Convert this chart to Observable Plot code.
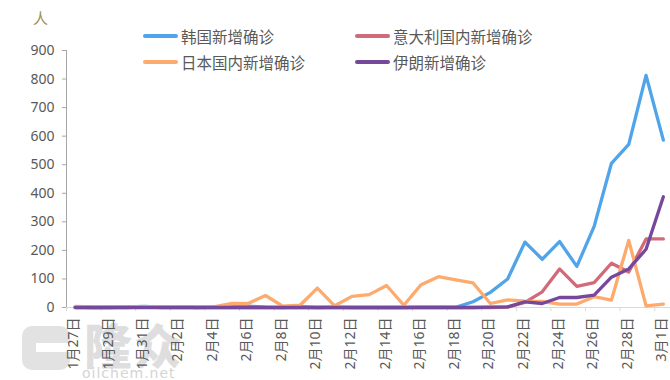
<!DOCTYPE html>
<html>
<head>
<meta charset="utf-8">
<script src="https://cdn.jsdelivr.net/npm/d3@7"></script>
<script src="https://cdn.jsdelivr.net/npm/@observablehq/plot@0.6"></script>
<style>
  html, body { margin: 0; padding: 0; background: #ffffff; }
  #wrap { position: relative; width: 670px; height: 380px; overflow: hidden; background: #ffffff; }
  #chart { position: absolute; left: 0; top: 0; z-index: 1; }
  #chart svg { background: transparent; }
  #wm { position: absolute; left: 0; top: 0; width: 670px; height: 380px; z-index: 0; }
  .wm-logo { position: absolute; left: 22px; top: 326px; width: 48px; height: 44px; background: #e2e2e2; border-radius: 10px; }
  .wm-bar { position: absolute; left: 14px; top: 17px; width: 34px; height: 9px; background: #ffffff; }
  .wm-text { position: absolute; left: 84px; top: 319px; line-height: 1; font-family: 'Noto Sans CJK SC', sans-serif; font-weight: 900; font-size: 48px; color: #dedede; letter-spacing: 2px; }
  .wm-sub { position: absolute; left: 82px; top: 366px; line-height: 1; font-family: 'DejaVu Sans', sans-serif; font-size: 14px; color: #d4d4d4; letter-spacing: 1px; }
  #unit { position: absolute; left: 33px; top: 7px; z-index: 2; font-family: 'Noto Sans CJK SC', sans-serif; font-size: 15px; color: #a0905a; }
  .leg { position: absolute; z-index: 2; display: flex; align-items: center; height: 20px; font-family: 'Noto Sans CJK SC', sans-serif; font-size: 15.5px; color: #595959; white-space: nowrap; }
  .sw { width: 35px; height: 3.5px; border-radius: 2px; margin-right: 3px; }
</style>
</head>
<body>
<div id="wrap">
  <div id="wm">
    <div class="wm-logo"><div class="wm-bar"></div></div>
    <div class="wm-text">隆众</div>
    <div class="wm-sub">oilchem.net</div>
  </div>
  <div id="chart"></div>
  <div id="unit">人</div>
</div>
<script>
// Categories: one per day, 2020-01-27 .. 2020-03-01
const dateLabels = [
  "1月27日","1月28日","1月29日","1月30日","1月31日",
  "2月1日","2月2日","2月3日","2月4日","2月5日","2月6日","2月7日","2月8日","2月9日","2月10日",
  "2月11日","2月12日","2月13日","2月14日","2月15日","2月16日","2月17日","2月18日","2月19日","2月20日",
  "2月21日","2月22日","2月23日","2月24日","2月25日","2月26日","2月27日","2月28日","2月29日","3月1日"
];

// Series values (new confirmed cases per day)
const korea = [1,0,0,2,4, 1,3,0,1,2, 5,1,0,3,0, 1,0,0,0,0, 1,1,1,20,53, 100,229,169,231,144, 284,505,571,813,586];
const italy = [0,0,0,0,2, 0,0,0,0,0, 0,0,0,0,0, 0,0,0,0,0, 0,0,0,0,0, 1,18,55,135,74, 87,155,124,240,240];
const japan = [4,2,2,3,3, 3,3,1,2,14, 14,42,5,8,68, 6,39,45,77,8, 80,108,97,86,14, 27,22,21,12,12, 38,26,235,6,12];
const iran  = [0,0,0,0,0, 0,0,0,0,0, 0,0,0,0,0, 0,0,0,0,0, 0,0,0,0,1, 2,20,14,35,35, 43,106,135,204,388];

const seriesNames  = ["韩国新增确诊", "意大利国内新增确诊", "日本国内新增确诊", "伊朗新增确诊"];
const seriesValues = [korea, italy, japan, iran];
const seriesColors = ["#4fa4ea", "#d06b79", "#fdaa6f", "#76489c"];

const yTicks = [0, 100, 200, 300, 400, 500, 600, 700, 800, 900];

// Build tidy table
const rows = [];
seriesNames.forEach((name, s) => {
  seriesValues[s].forEach((v, i) => rows.push({series: name, i, value: v}));
});

const n = dateLabels.length;
const labelIdx = d3.range(0, n, 2);              // labelled categories
const tickBounds = labelIdx.map(i => i - 0.5);   // tick marks sit between categories

const chart = Plot.plot({
  width: 670,
  height: 380,
  marginLeft: 66,
  marginRight: 0,
  marginTop: 50,
  marginBottom: 73,
  style: {background: "transparent", fontFamily: "'Noto Sans', 'Noto Sans CJK SC', sans-serif", color: "#595959", overflow: "visible"},
  x: {type: "linear", domain: [-0.5, n - 0.5], range: [66, 671.5]},
  y: {domain: [0, 900]},
  color: {domain: seriesNames, range: seriesColors},
  marks: [
    Plot.ruleY([0], {stroke: "#d9d9d9", strokeWidth: 1}),
    Plot.ruleX([-0.5], {y1: 0, y2: 900, stroke: "#a6a6a6", strokeWidth: 1}),
    Plot.axisY({ticks: yTicks, tickSize: 4, tickPadding: 8, stroke: "#a6a6a6", fill: "#595959", fontSize: 14, label: null}),
    Plot.axisX({ticks: tickBounds, tickSize: 4, stroke: "#d9d9d9", tickFormat: () => "", label: null}),
    Plot.axisX({ticks: labelIdx, tickSize: 0, tickPadding: 10, tickRotate: -90, textAnchor: "end", dx: -1.5,
                tickFormat: i => dateLabels[i], fontSize: 14, fill: "#595959", label: null}),
    Plot.line(rows, {x: "i", y: "value", z: "series", stroke: "series", strokeWidth: 3.3, strokeLinejoin: "round", strokeLinecap: "round"})
  ]
});
document.getElementById("chart").appendChild(chart);

// Legend (two rows, two columns, inside the top of the chart)
const wrap = document.getElementById("wrap");
const legCols = [143, 355];
const legRows = [26, 52];
seriesNames.forEach((name, s) => {
  const item = document.createElement("div");
  item.className = "leg";
  item.style.left = legCols[s % 2] + "px";
  item.style.top = legRows[Math.floor(s / 2)] + "px";
  const sw = document.createElement("div");
  sw.className = "sw";
  sw.style.background = seriesColors[s];
  const tx = document.createElement("span");
  tx.textContent = name;
  item.appendChild(sw);
  item.appendChild(tx);
  wrap.appendChild(item);
});
</script>
</body>
</html>
